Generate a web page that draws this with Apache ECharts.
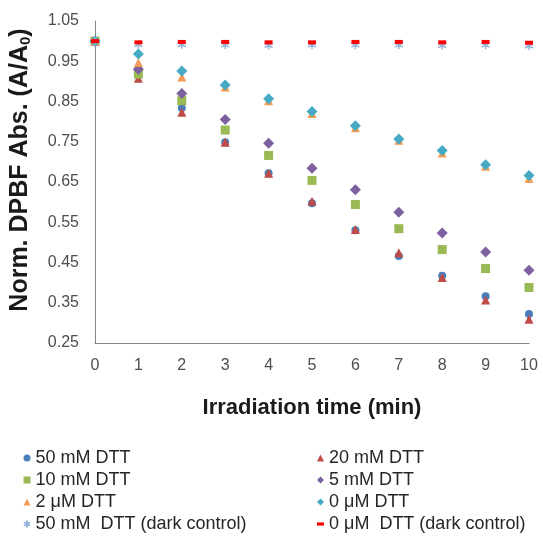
<!DOCTYPE html>
<html>
<head>
<meta charset="utf-8">
<script src="https://cdn.jsdelivr.net/npm/echarts@6/dist/echarts.min.js"></script>
<style>
  html, body { margin: 0; padding: 0; background: #fff; }
  #chart { width: 543px; height: 546px; }
</style>
</head>
<body>
<div id="chart"></div>
<script>
// Irradiation time (min)
const times = [0, 1, 2, 3, 4, 5, 6, 7, 8, 9, 10];

// Normalised DPBF absorbance per condition
const dtt50mM = [1.0, 0.930, 0.834, 0.749, 0.672, 0.597, 0.530, 0.466, 0.417, 0.366, 0.322];
const dtt20mM = [1.0, 0.908, 0.823, 0.749, 0.672, 0.602, 0.532, 0.474, 0.413, 0.357, 0.309];
const dtt10mM = [1.0, 0.918, 0.852, 0.779, 0.716, 0.654, 0.594, 0.534, 0.482, 0.435, 0.388];
const dtt5mM = [1.0, 0.930, 0.870, 0.805, 0.746, 0.684, 0.631, 0.575, 0.523, 0.476, 0.431];
const dtt2uM = [1.0, 0.947, 0.911, 0.886, 0.852, 0.820, 0.785, 0.754, 0.722, 0.689, 0.659];
const dtt0uM = [1.0, 0.968, 0.926, 0.891, 0.857, 0.825, 0.790, 0.757, 0.728, 0.693, 0.666];
const dark50mM = [1.0, 0.991, 0.991, 0.990, 0.989, 0.990, 0.990, 0.990, 0.989, 0.990, 0.988];
const dark0uM = [1.0, 0.997, 0.998, 0.998, 0.997, 0.997, 0.998, 0.998, 0.997, 0.998, 0.996];

const names = [
    '50 mM DTT', '20 mM DTT', '10 mM DTT', '5 mM DTT',
    '2 μM DTT', '0 μM DTT', '50 mM  DTT (dark control)', '0 μM  DTT (dark control)'
];

const asterisk = 'path://M5,0L5,10M0.7,2.5L9.3,7.5M0.7,7.5L9.3,2.5';
const dash = 'path://M0,0h10v4.5h-10z';

const pairs = (vals) => times.map((t, i) => [t, vals[i]]);

const chart = echarts.init(document.getElementById('chart'));

const font = 'Liberation Sans, Arial, sans-serif';

function scatter(name, vals, symbol, size, color, extra) {
    return Object.assign({
        name: name,
        type: 'scatter',
        data: pairs(vals),
        symbol: symbol,
        symbolSize: size,
        itemStyle: { color: color, opacity: 1 }
    }, extra || {});
}

const legendText = { fontFamily: font, fontSize: 18, color: '#262626', lineHeight: 18 };

const option = {
    animation: false,
    backgroundColor: '#fff',
    grid: { left: 95, right: 14, top: 21, bottom: 203 },
    legend: [
        {
            orient: 'vertical',
            left: 23,
            top: 449,
            padding: 0,
            itemWidth: 7,
            itemHeight: 7,
            itemGap: 4,
            textStyle: legendText,
            data: [names[0], names[2], names[4], names[6]]
        },
        {
            orient: 'vertical',
            left: 317,
            top: 449,
            padding: 0,
            itemWidth: 7,
            itemHeight: 7,
            itemGap: 4,
            textStyle: legendText,
            data: [names[1], names[3], names[5], names[7]]
        }
    ],
    xAxis: {
        type: 'value',
        min: 0,
        max: 10,
        interval: 1,
        name: 'Irradiation time (min)',
        nameLocation: 'middle',
        nameGap: 54,
        nameTextStyle: { fontFamily: font, fontSize: 22, fontWeight: 'bold', color: '#1a1a1a' },
        axisLine: { show: true, lineStyle: { color: '#868686', width: 1 } },
        axisTick: { show: false },
        splitLine: { show: false },
        axisLabel: { margin: 15, fontFamily: font, fontSize: 16, color: '#4d4d4d' }
    },
    yAxis: {
        type: 'value',
        min: 0.25,
        max: 1.05,
        interval: 0.05,
        name: 'Norm. DPBF Abs. (A/A{sub|0})',
        nameLocation: 'middle',
        nameRotate: 90,
        nameGap: 62,
        nameTextStyle: {
            fontFamily: font, fontSize: 25, fontWeight: 'bold', color: '#1a1a1a',
            padding: [0, 0, 0, 24],
            rich: {
                sub: { fontFamily: font, fontSize: 15, fontWeight: 'bold', color: '#1a1a1a', verticalAlign: 'bottom', padding: [8, 0, 0, 0] }
            }
        },
        axisLine: { show: true, lineStyle: { color: '#868686', width: 1 } },
        axisTick: { show: false },
        splitLine: { show: false },
        axisLabel: {
            margin: 16,
            fontFamily: font,
            fontSize: 16,
            color: '#4d4d4d',
            formatter: (v) => (Math.round(v * 100) % 10 === 5 ? v.toFixed(2) : '')
        }
    },
    series: [
        scatter(names[0], dtt50mM, 'circle', 8, '#4A7EBB'),
        scatter(names[1], dtt20mM, 'triangle', 9, '#BE4B48'),
        scatter(names[2], dtt10mM, 'rect', 9, '#98B954'),
        scatter(names[3], dtt5mM, 'diamond', 11, '#7D60A0'),
        scatter(names[4], dtt2uM, 'triangle', 9, '#F59D56'),
        scatter(names[5], dtt0uM, 'diamond', 11, '#46AAC5'),
        scatter(names[6], dark50mM, asterisk, 8, '#95B3D7', {
            itemStyle: { color: 'rgba(0,0,0,0)', borderColor: '#95B3D7', borderWidth: 1.5, opacity: 1 }
        }),
        scatter(names[7], dark0uM, dash, [8, 4], '#FF0000')
    ]
};

chart.setOption(option);
</script>
</body>
</html>
